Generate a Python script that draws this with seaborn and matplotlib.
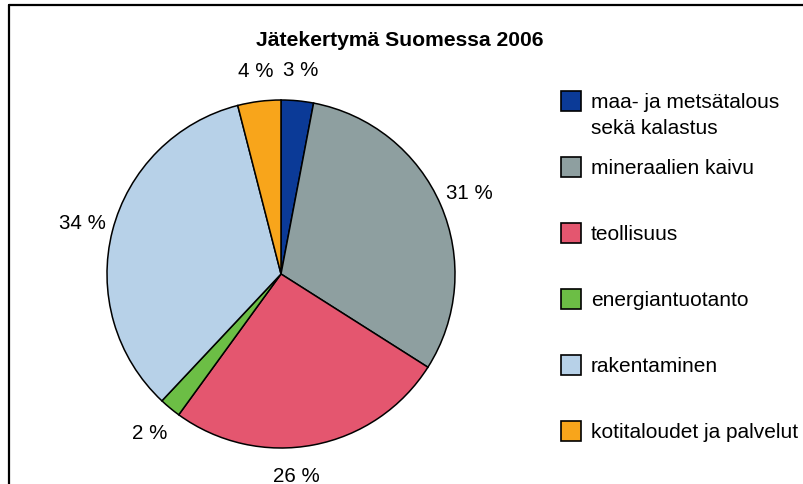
import matplotlib
matplotlib.use("Agg")
import matplotlib.pyplot as plt
import seaborn as sns
from matplotlib.lines import Line2D
from matplotlib.patches import Rectangle

sns.set_theme(style="white")
plt.rcParams["font.family"] = ["Liberation Sans", "DejaVu Sans"]

# data (percent of total waste, Finland 2006)
title = "Jätekertymä Suomessa 2006"
categories = [
    "maa- ja metsätalous\nsekä kalastus",
    "mineraalien kaivu",
    "teollisuus",
    "energiantuotanto",
    "rakentaminen",
    "kotitaloudet ja palvelut",
]
shares = [3, 31, 26, 2, 34, 4]
colors = ["#0b3a97", "#8e9fa0", "#e4566f", "#6cbe45", "#b7d1e8", "#f8a51b"]

W, H = 804, 485
fig = plt.figure(figsize=(W / 100, H / 100), dpi=100)

# pie axes: centre (281, 275) px, radius 174 px
cx, cy, r = 281, 275, 174
ax = fig.add_axes([(cx - r) / W, (H - cy - r) / H, 2 * r / W, 2 * r / H])
wedges, texts, pcts = ax.pie(
    shares,
    colors=colors,
    startangle=90,
    counterclock=False,
    radius=1.0,
    autopct=lambda p: f"{p:.0f} %",
    pctdistance=1.18,
    wedgeprops=dict(edgecolor="black", linewidth=1.1),
    textprops=dict(fontsize=14.8, color="black"),
)
# the bottom label sits a little left of the radial spot, like in the original
pcts[2].set_ha("right")
ax.set_xlim(-1, 1)
ax.set_ylim(-1, 1)
ax.set_aspect("equal")
ax.axis("off")

fig.text(400 / W, 1 - 40 / H, title, ha="center", va="center",
         fontsize=15.2, fontweight="bold", color="black")

# legend drawn by hand so the box lines up with the first text line
box = 20
for i, (lab, col) in enumerate(zip(categories, colors)):
    yc = 102 + 66 * i
    fig.add_artist(Rectangle((561 / W, 1 - (yc + box / 2) / H), box / W, box / H,
                             transform=fig.transFigure, facecolor=col,
                             edgecolor="black", linewidth=1.2))
    fig.text(591 / W, 1 - (yc - 9) / H, lab, ha="left", va="top",
             fontsize=15, color="black", linespacing=1.45)

# chart frame (left and top edges visible)
lw = 1.6
fig.add_artist(Line2D([8.5 / W, 8.5 / W], [0, 1 - 6.2 / H], transform=fig.transFigure,
                      color="black", linewidth=lw))
fig.add_artist(Line2D([8.5 / W, 1], [1 - 6.2 / H, 1 - 6.2 / H], transform=fig.transFigure,
                      color="black", linewidth=lw))

fig.savefig("out.png", dpi=100, facecolor="white")
